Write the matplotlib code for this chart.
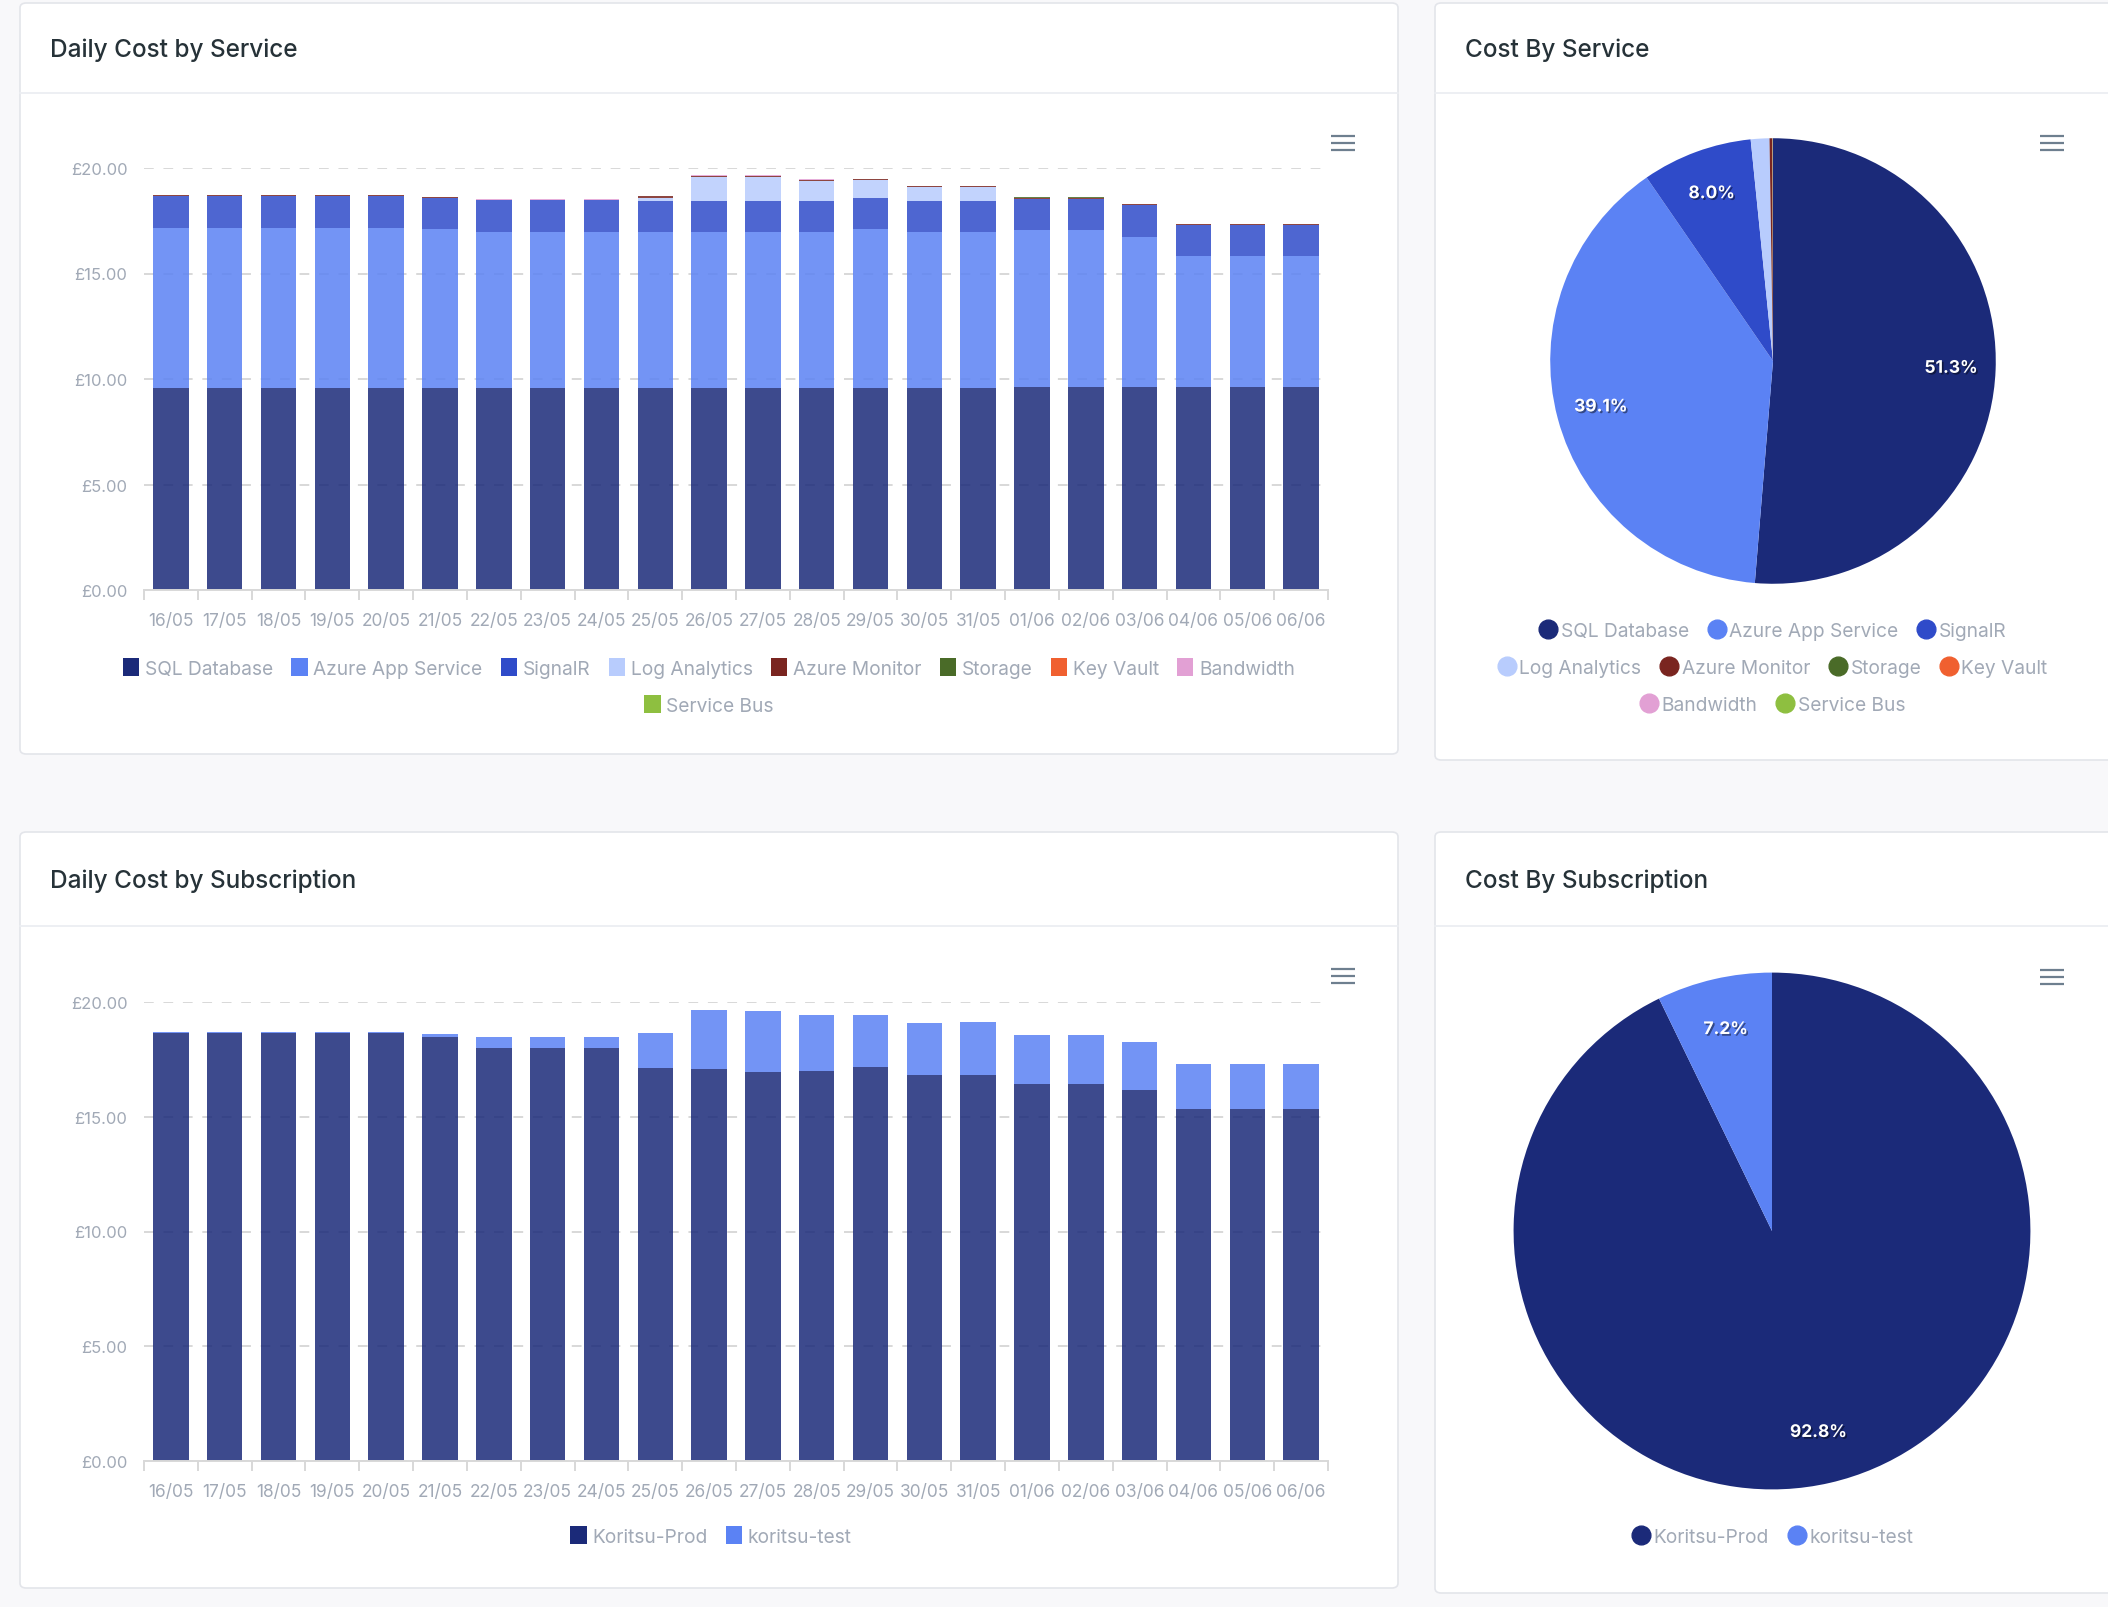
import matplotlib
matplotlib.use("Agg")
import matplotlib.pyplot as plt
import matplotlib.patheffects as pe
from matplotlib.patches import FancyBboxPatch, Patch
from matplotlib.lines import Line2D
import numpy as np

plt.rcParams['font.family'] = ['Inter', 'DejaVu Sans']

days = ["16/05", "17/05", "18/05", "19/05", "20/05", "21/05", "22/05", "23/05",
        "24/05", "25/05", "26/05", "27/05", "28/05", "29/05", "30/05", "31/05",
        "01/06", "02/06", "03/06", "04/06", "05/06", "06/06"]

services = ["SQL Database", "Azure App Service", "SignalR", "Log Analytics",
            "Azure Monitor", "Storage", "Key Vault", "Bandwidth", "Service Bus"]
service_colors = ["#1b2a79", "#5b82f4", "#2f4bc9", "#b8ccfd", "#7a2520",
                  "#4a6b28", "#f06030", "#e2a0d4", "#8ebf40"]

# daily cost per service (GBP)
sql_database = [9.55, 9.55, 9.55, 9.55, 9.55, 9.55, 9.55, 9.55, 9.55, 9.55, 9.55,
                9.55, 9.55, 9.55, 9.55, 9.55, 9.62, 9.62, 9.62, 9.62, 9.62, 9.62]
app_service = [7.63, 7.63, 7.63, 7.63, 7.63, 7.57, 7.41, 7.41, 7.41, 7.41, 7.41,
               7.41, 7.41, 7.54, 7.41, 7.41, 7.46, 7.46, 7.13, 6.19, 6.19, 6.19]
signalr = [1.48, 1.48, 1.48, 1.48, 1.48, 1.47, 1.50, 1.50, 1.50, 1.47, 1.49,
           1.49, 1.49, 1.47, 1.49, 1.49, 1.47, 1.47, 1.50, 1.50, 1.50, 1.50]
log_analytics = [0, 0, 0, 0, 0, 0, 0, 0, 0, 0.17, 1.14,
                 1.14, 0.94, 0.86, 0.64, 0.64, 0, 0, 0, 0, 0, 0]
azure_monitor = [0.05, 0.05, 0.05, 0.05, 0.05, 0.03, 0.03, 0.03, 0.03, 0.05, 0.05,
                 0.05, 0.05, 0.05, 0.04, 0.04, 0.05, 0.05, 0.03, 0.04, 0.04, 0.04]
storage = [0.002, 0.002, 0.002, 0.002, 0.002, 0.002, 0.002, 0.002, 0.002, 0.002, 0.002,
           0.002, 0.002, 0.002, 0.002, 0.002, 0.002, 0.002, 0.002, 0.002, 0.002, 0.002]
key_vault = [0.001, 0.001, 0.001, 0.001, 0.001, 0.001, 0.001, 0.001, 0.001, 0.001, 0.001,
             0.001, 0.001, 0.001, 0.001, 0.001, 0.001, 0.001, 0.001, 0.001, 0.001, 0.001]
bandwidth = [0.01, 0.01, 0.01, 0.01, 0.01, 0.02, 0.02, 0.02, 0.02, 0.02, 0.01,
             0.01, 0.02, 0.02, 0.01, 0.01, 0.01, 0.01, 0.02, 0.01, 0.01, 0.01]
service_bus = [0.001, 0.001, 0.001, 0.001, 0.001, 0.001, 0.001, 0.001, 0.001, 0.001, 0.001,
               0.001, 0.001, 0.001, 0.001, 0.001, 0.001, 0.001, 0.001, 0.001, 0.001, 0.001]

# share of total cost (%), as labelled on the pie
service_share = [51.3, 39.1, 8.0, 1.35, 0.2, 0.02, 0.01, 0.01, 0.01]

subscriptions = ["Koritsu-Prod", "koritsu-test"]
sub_colors = ["#1b2a79", "#5b82f4"]
koritsu_prod = [18.66, 18.66, 18.66, 18.66, 18.66, 18.48, 17.99, 17.99, 17.99, 17.12, 17.08,
                16.94, 17.00, 17.17, 16.81, 16.81, 16.42, 16.42, 16.16, 15.35, 15.35, 15.35]
koritsu_test = [0.05, 0.05, 0.05, 0.05, 0.05, 0.12, 0.49, 0.49, 0.49, 1.51, 2.55,
                2.67, 2.42, 2.27, 2.27, 2.30, 2.13, 2.13, 2.11, 1.94, 1.94, 1.94]
subscription_share = [92.8, 7.2]

TEXT = "#263238"
MUTED = "#a1a9b6"
GRID = "#d8d8d8"

W, H = 2108, 1608
fig = plt.figure(figsize=(W / 100, H / 100), dpi=100)
fig.patch.set_facecolor("#f8f8fa")


def fx(x):
    return x / W


def fy(y):
    return 1 - y / H


def px_rect(x0, y0, x1, y1):
    return [fx(x0), fy(y1), (x1 - x0) / W, (y1 - y0) / H]


def card(x0, y0, x1, y1, divider, title):
    box = FancyBboxPatch((fx(x0), fy(y1)), (x1 - x0) / W, (y1 - y0) / H,
                         boxstyle="round,pad=0,rounding_size=0.003",
                         transform=fig.transFigure, facecolor="white",
                         edgecolor="#e3e5ea", linewidth=1.2, zorder=-2)
    fig.patches.append(box)
    fig.add_artist(Line2D([fx(x0), fx(x1)], [fy(divider)] * 2,
                          color="#eceef2", lw=1.3, zorder=-1))
    fig.text(fx(x0 + 30), fy((y0 + divider) / 2 + 1), title, fontsize=17.5,
             color=TEXT, va="center", ha="left", fontweight="medium")


def menu_icon(x, y):
    for dy in (-7, 0, 7):
        fig.add_artist(Line2D([fx(x - 12), fx(x + 12)], [fy(y + dy)] * 2,
                              color="#6e7f8f", lw=1.6, solid_capstyle="butt"))


def stacked_bars(rect, series, colors):
    ax = fig.add_axes(rect)
    x = np.arange(len(days))
    bottom = np.zeros(len(days))
    for vals, c in zip(series, colors):
        ax.bar(x, vals, width=0.66, bottom=bottom, color=c, alpha=0.85,
               linewidth=0, zorder=3)
        bottom += np.array(vals)
    ax.set_xlim(-0.5, len(days) - 0.5)
    ax.set_ylim(0, 20)
    ax.set_yticks([0, 5, 10, 15, 20])
    ax.set_yticklabels(["£0.00", "£5.00", "£10.00", "£15.00", "£20.00"])
    ax.yaxis.grid(True, linestyle=(0, (5, 5)), color=GRID, lw=1.4)
    ax.set_axisbelow(True)
    for s in ("top", "right", "left"):
        ax.spines[s].set_visible(False)
    ax.spines["bottom"].set_color(GRID)
    ax.spines["bottom"].set_linewidth(1.4)
    ax.spines["bottom"].set_zorder(4)
    ax.set_xticks(x)
    ax.set_xticklabels(days)
    ax.set_xticks(np.arange(-0.5, len(days)), minor=True)
    ax.tick_params(axis="x", which="major", length=0, pad=16, labelsize=12.5,
                   labelcolor=MUTED)
    ax.tick_params(axis="x", which="minor", length=7, color=GRID, width=1.4)
    ax.tick_params(axis="y", length=0, pad=12, labelsize=12, labelcolor=MUTED)
    ax.set_facecolor("none")
    return ax


def pie_chart(cx, cy, r, shares, colors):
    ax = fig.add_axes(px_rect(cx - r, cy - r, cx + r, cy + r))
    wedges, _, autotexts = ax.pie(
        shares, colors=colors, startangle=90, counterclock=False, radius=1,
        autopct=lambda p: f"{p:.1f}%" if p > 5 else "", pctdistance=0.8,
        wedgeprops=dict(linewidth=0))
    for t in autotexts:
        t.set_color("white")
        t.set_fontsize(12.5)
        t.set_fontweight("bold")
        t.set_path_effects([pe.withSimplePatchShadow(offset=(1.2, -1.2),
                                                     shadow_rgbFace="black",
                                                     alpha=0.45)])
    ax.set_xlim(-1.01, 1.01)
    ax.set_ylim(-1.01, 1.01)
    ax.set_facecolor("none")
    return ax


def square_legend(names, colors, cx, cy):
    handles = [Patch(facecolor=c, edgecolor="none") for c in colors]
    fig.legend(handles, names, loc="center", bbox_to_anchor=(fx(cx), fy(cy)),
               ncol=len(names), frameon=False, fontsize=13.8, labelcolor=MUTED,
               handlelength=0.85, handleheight=1.0, handletextpad=0.3,
               columnspacing=0.95, borderaxespad=0, borderpad=0)


def dot_legend(names, colors, cx, cy):
    handles = [Line2D([], [], marker="o", linestyle="", markersize=13.5,
                      markerfacecolor=c, markeredgecolor=c) for c in colors]
    fig.legend(handles, names, loc="center", bbox_to_anchor=(fx(cx), fy(cy)),
               ncol=len(names), frameon=False, fontsize=13.8, labelcolor=MUTED,
               handlelength=0.9, handletextpad=0.2, columnspacing=1.0,
               borderaxespad=0, borderpad=0)


# cards
card(20, 4, 1398, 755, 94, "Daily Cost by Service")
card(1435, 4, 2130, 761, 94, "Cost By Service")
card(20, 833, 1398, 1589, 927, "Daily Cost by Subscription")
card(1435, 833, 2130, 1594, 927, "Cost By Subscription")

menu_icon(1343, 144)
menu_icon(2052, 144)
menu_icon(1343, 977)
menu_icon(2052, 978)

# daily cost by service
service_series = [sql_database, app_service, signalr, log_analytics, azure_monitor,
                  storage, key_vault, bandwidth, service_bus]
stacked_bars(px_rect(144, 169, 1328, 591), service_series, service_colors)
square_legend(services[:8], service_colors[:8], 709, 669)
square_legend(services[8:], service_colors[8:], 709, 706)

# cost by service
pie_chart(1773, 362, 225, service_share, service_colors)
dot_legend(services[:3], service_colors[:3], 1773, 632)
dot_legend(services[3:7], service_colors[3:7], 1773, 669)
dot_legend(services[7:], service_colors[7:], 1773, 706)

# daily cost by subscription
stacked_bars(px_rect(144, 1003, 1328, 1462), [koritsu_prod, koritsu_test], sub_colors)
square_legend(subscriptions, sub_colors, 711, 1537)

# cost by subscription
pie_chart(1772, 1232, 261, subscription_share, sub_colors)
dot_legend(subscriptions, sub_colors, 1773, 1538)

fig.savefig("out.png", dpi=100, facecolor=fig.get_facecolor())
